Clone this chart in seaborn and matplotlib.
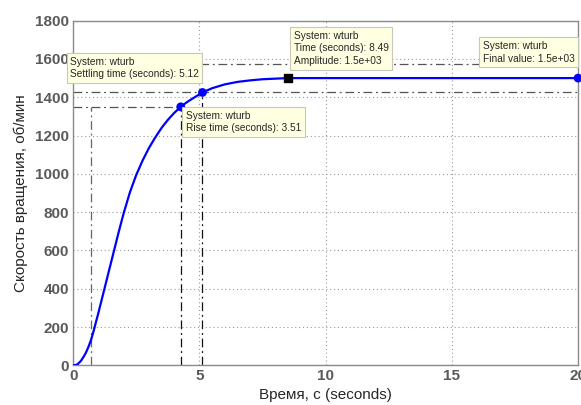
import numpy as np
import pandas as pd
import matplotlib
matplotlib.use("Agg")
import matplotlib.pyplot as plt
import seaborn as sns

# step response
time_s = [0, 0.15, 0.3, 0.4, 0.5, 0.6, 0.7, 0.8, 0.9, 1.0, 1.2, 1.4, 1.6, 1.8, 2.0, 2.25,
          2.5, 2.75, 3.0, 3.25, 3.5, 3.75, 4.0, 4.26, 4.5, 4.75, 5.12, 5.5, 6.0, 6.5, 7.0,
          7.5, 8.0, 8.49, 10, 12, 15, 18, 20]
speed = [0, 3, 22, 42, 65, 95, 130, 175, 225, 275, 380, 485, 590, 695, 795, 905,
         995, 1070, 1135, 1190, 1240, 1282, 1318, 1350, 1374, 1395, 1425, 1447, 1467, 1480, 1488,
         1494, 1497, 1500, 1500, 1500, 1500, 1500, 1500]

# characteristics shown by the data tips
rise_start, rise_end, rise_level = 0.72, 4.26, 1350
settle_t, settle_lo, settle_hi = 5.12, 1425, 1575
peak_t, final_value, t_end = 8.49, 1500, 20

tips = [
    ("System: wturb\nSettling time (seconds): 5.12", -0.12, 1612),
    ("System: wturb\nTime (seconds): 8.49\nAmplitude: 1.5e+03", 8.74, 1748),
    ("System: wturb\nFinal value: 1.5e+03", 16.22, 1694),
    ("System: wturb\nRise time (seconds): 3.51", 4.46, 1330),
]

df = pd.DataFrame({"t": time_s, "y": speed})

sns.set_style("white")
plt.rcParams["font.family"] = ["Liberation Sans", "DejaVu Sans"]

fig = plt.figure(figsize=(5.81, 4.05), dpi=100)
ax = fig.add_axes([0.126, 0.098, 0.869, 0.851])

dashdot = (0, (7, 3, 1.5, 3))
line_kw = dict(linestyle=dashdot, linewidth=0.9, zorder=2)
ax.hlines([settle_lo, settle_hi], 0, t_end, color="#555555", **line_kw)
ax.hlines(rise_level, 0, rise_end, color="#555555", **line_kw)
ax.vlines(rise_start, 0, rise_level, color="#666666", **line_kw)
ax.vlines(rise_end, 0, rise_level, color="#111111", **line_kw)
ax.vlines(settle_t, 0, settle_lo, color="#111111", **line_kw)

sns.lineplot(data=df, x="t", y="y", color="#0000ff", linewidth=1.6, ax=ax, zorder=3)

pts = pd.DataFrame({"t": [rise_end, settle_t, t_end], "y": [rise_level, settle_lo, final_value]})
sns.scatterplot(data=pts, x="t", y="y", color="#0000ff", s=40, edgecolor="none", ax=ax, zorder=4, clip_on=False)
ax.scatter([peak_t], [final_value], marker="s", color="black", s=30, zorder=5)

for txt, x, y in tips:
    ax.text(x, y, txt, fontsize=7.3, va="top", ha="left", linespacing=1.35, zorder=6,
            bbox=dict(boxstyle="square,pad=0.35", facecolor="#ffffe1", edgecolor="#c8c8b4", linewidth=0.8))

ax.set_xlim(0, 20)
ax.set_ylim(0, 1800)
ax.set_xticks([0, 5, 10, 15, 20])
ax.set_yticks(np.arange(0, 1801, 200))
ax.grid(True, linestyle=(0, (1, 2.5)), color="#999999", linewidth=0.8)
ax.set_axisbelow(True)
for sp in ax.spines.values():
    sp.set_color("#8a8a8a")
    sp.set_linewidth(1.0)
ax.tick_params(axis="both", labelsize=11, labelcolor="#5a5a5a", length=0, pad=3)
for lab in ax.get_xticklabels() + ax.get_yticklabels():
    lab.set_fontweight("bold")

ax.set_xlabel("Время, с (seconds)", fontsize=11, labelpad=3)
ax.set_ylabel("Скорость вращения, об/мин", fontsize=11, labelpad=5)

fig.savefig("out.png", dpi=100)
